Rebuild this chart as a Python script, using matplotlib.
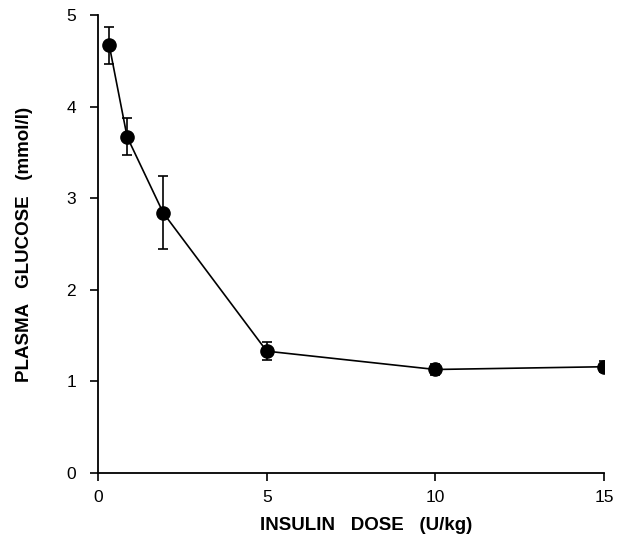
import matplotlib
matplotlib.use("Agg")
import matplotlib.pyplot as plt

dose = [0.33, 0.86, 1.93, 5, 10, 15]
glucose = [4.67, 3.67, 2.84, 1.33, 1.13, 1.16]
sem = [0.2, 0.2, 0.4, 0.1, 0.06, 0.06]
xticks = [0, 5, 10, 15]
yticks = [0, 1, 2, 3, 4, 5]

plt.rcParams['font.family'] = ['Liberation Sans', 'DejaVu Sans']
fig = plt.figure(figsize=(6.17, 5.41), dpi=100)
ax = fig.add_axes([0.159, 0.1257, 0.82, 0.8466])
ax.errorbar(dose, glucose, yerr=sem, fmt='-o', color='black', ms=9.5,
            lw=1.2, elinewidth=1.2, capsize=3.5, capthick=1.2)
ax.set_xlim(0, 15)
ax.set_ylim(0, 5)
ax.set_xticks(xticks)
ax.set_yticks(yticks)
ax.spines['top'].set_visible(False)
ax.spines['right'].set_visible(False)
for s in ['left', 'bottom']:
    ax.spines[s].set_linewidth(1.3)
ax.tick_params(direction='out', length=6, width=1.2, labelsize=12.5)
ax.tick_params(axis='y', pad=10)
ax.tick_params(axis='x', pad=6)
ax.set_xlabel('INSULIN   DOSE   (U/kg)', fontsize=13.5, fontweight='bold', labelpad=9)
ax.xaxis.set_label_coords(0.53, -0.095)
ax.set_ylabel('PLASMA   GLUCOSE   (mmol/l)', fontsize=13.5, fontweight='bold', labelpad=24)
fig.savefig('out.png', dpi=100)
